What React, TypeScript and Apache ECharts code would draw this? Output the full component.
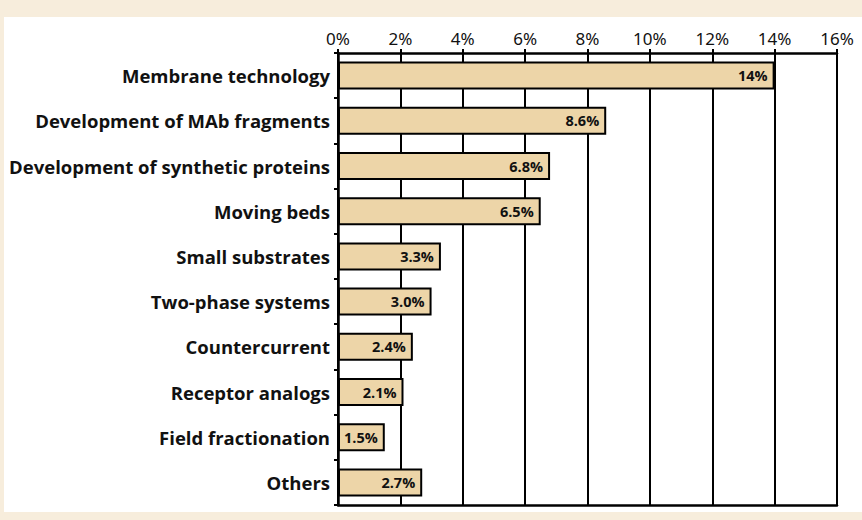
import React, { useEffect, useRef } from "react";
import * as echarts from "echarts";

const categories = [
  "Membrane technology",
  "Development of MAb fragments",
  "Development of synthetic proteins",
  "Moving beds",
  "Small substrates",
  "Two-phase systems",
  "Countercurrent",
  "Receptor analogs",
  "Field fractionation",
  "Others",
];
const values = [14, 8.6, 6.8, 6.5, 3.3, 3.0, 2.4, 2.1, 1.5, 2.7];
const valueLabels = ["14%", "8.6%", "6.8%", "6.5%", "3.3%", "3.0%", "2.4%", "2.1%", "1.5%", "2.7%"];

export default function App() {
  const ref = useRef<HTMLDivElement>(null);
  useEffect(() => {
    document.body.style.margin = "0";
    const chart = echarts.init(ref.current!, null, { renderer: "svg" });
    chart.setOption({
      animation: false,
      backgroundColor: "transparent",
      grid: { left: 338, right: 25, top: 53, bottom: 15, containLabel: false },
      xAxis: [
        {
          type: "value",
          position: "top",
          min: 0,
          max: 16,
          interval: 2,
          axisLine: { show: true, lineStyle: { color: "#000", width: 2.5 } },
          axisTick: { show: true, inside: false, length: 4, lineStyle: { color: "#000", width: 2 } },
          axisLabel: {
            formatter: (v: number) => v + "%",
            color: "#111",
            fontSize: 17,
            fontFamily: "Noto Sans",
            margin: 6,
          },
          splitLine: { show: true, lineStyle: { color: "#000", width: 2 } },
        },
        {
          type: "value",
          position: "bottom",
          min: 0,
          max: 16,
          interval: 2,
          axisLine: { show: true, onZero: false, lineStyle: { color: "#000", width: 2.5 } },
          axisTick: { show: false },
          axisLabel: { show: false },
          splitLine: { show: false },
        },
      ],
      yAxis: {
        type: "category",
        data: categories,
        inverse: true,
        axisLine: { show: true, lineStyle: { color: "#000", width: 2.5 } },
        axisTick: { show: true, length: 4, lineStyle: { color: "#000", width: 2 } },
        axisLabel: {
          color: "#111",
          fontSize: 18.5,
          fontWeight: "bold",
          fontFamily: "Open Sans",
          margin: 8,
        },
      },
      series: [
        {
          type: "bar",
          xAxisIndex: 0,
          data: values,
          barCategoryGap: "38%",
          itemStyle: { color: "#edd5a8", borderColor: "#000", borderWidth: 2 },
          label: {
            show: true,
            position: "insideRight",
            distance: 7,
            formatter: (p: any) => valueLabels[p.dataIndex],
            color: "#111",
            fontSize: 14.5,
            fontWeight: "bold",
            fontFamily: "Open Sans",
          },
        },
      ],
    });
    return () => chart.dispose();
  }, []);
  return (
    <div style={{ position: "fixed", left: 0, top: 0, width: 862, height: 520, background: "#f7eddc" }}>
      <div style={{ position: "absolute", left: 4, top: 17, width: 858, height: 495, background: "#fff" }} />
      <div ref={ref} style={{ position: "absolute", left: 0, top: 0, width: 862, height: 520 }} />
    </div>
  );
}
